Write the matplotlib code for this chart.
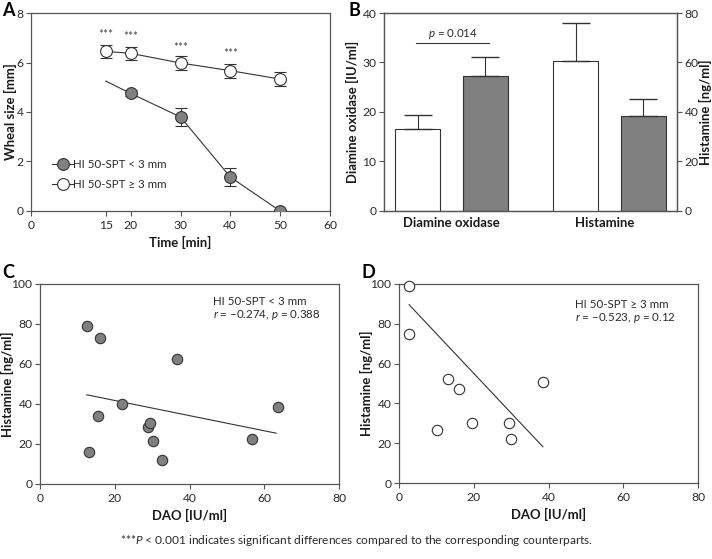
import matplotlib
matplotlib.use("Agg")
import matplotlib.pyplot as plt
from matplotlib.lines import Line2D

plt.rcParams['font.family'] = ['Lato', 'DejaVu Sans']
plt.rcParams['mathtext.fontset'] = 'custom'
plt.rcParams['mathtext.it'] = 'Lato:italic'
plt.rcParams['mathtext.rm'] = 'Lato'
plt.rcParams['axes.edgecolor'] = '#555555'
plt.rcParams['xtick.color'] = '#555555'
plt.rcParams['ytick.color'] = '#555555'
plt.rcParams['xtick.labelcolor'] = '#2a2a2a'
plt.rcParams['ytick.labelcolor'] = '#2a2a2a'

# ---- Panel A data ----
time_low = [15, 20, 30, 40, 50]
wheal_low = [5.25, 4.75, 3.8, 1.37, 0.0]
wheal_low_err = [0.0, 0.12, 0.35, 0.35, 0.0]
time_high = [15, 20, 30, 40, 50]
wheal_high = [6.45, 6.37, 5.98, 5.67, 5.33]
wheal_high_err = [0.25, 0.25, 0.28, 0.28, 0.28]
star_times = [15, 20, 30, 40]
star_levels = [7.15, 7.05, 6.6, 6.35]
a_xticks = [0, 15, 20, 30, 40, 50, 60]

# ---- Panel B data ----
b_groups = ['Diamine oxidase', 'Histamine']
dao_means = [16.5, 27.3]
dao_err = [2.8, 3.8]
hist_means = [60.8, 38.3]
hist_err = [15.0, 6.8]

# ---- Panel C data ----
c_dao = [12.5, 16.1, 36.7, 22.0, 15.4, 63.7, 29.0, 29.5, 30.2, 56.6, 13.1, 32.6]
c_hist = [78.9, 73.1, 62.4, 40.1, 34.1, 38.5, 28.4, 30.3, 21.7, 22.4, 15.9, 11.9]
c_fit_x = [12.5, 63.2]
c_fit_y = [44.6, 25.4]

# ---- Panel D data ----
d_dao = [2.6, 2.7, 13.0, 16.1, 10.3, 19.4, 29.3, 30.1, 38.4]
d_hist = [99.2, 74.9, 52.3, 47.0, 26.8, 30.4, 30.4, 21.9, 50.7]
d_fit_x = [2.7, 38.5]
d_fit_y = [89.6, 18.2]

W, H = 712, 559
fig = plt.figure(figsize=(W / 100, H / 100), dpi=100)
renderer = fig.canvas.get_renderer()


def fit_size(s, target_px, weight='normal'):
    t = fig.text(0, 0, s, fontsize=10, fontweight=weight)
    w = t.get_window_extent(renderer).width
    t.remove()
    return 10 * target_px / w


TICK = fit_size('100', 21)
LABEL = fit_size('DAO [IU/ml]', 75, 'bold')
TXT = fit_size('HI 50-SPT < 3 mm', 93)
FOOT = fit_size('***$P$ < 0.001 indicates significant differences compared to the corresponding counterparts.', 473)


def ax_px(l, t, r, b):
    return fig.add_axes([l / W, 1 - b / H, (r - l) / W, (b - t) / H])

GRAY = '#808080'
DARK = '#333333'
TCOL = '#2a2a2a'
LBL = dict(fontweight='bold', fontsize=LABEL, color='#1a1a1a')

# ---------- A ----------
axA = ax_px(31, 13, 330, 211)
axA.plot(time_low, wheal_low, color=DARK, lw=0.8, zorder=2)
axA.errorbar(time_low[1:], wheal_low[1:], yerr=wheal_low_err[1:], fmt='o', ms=8.5,
             mfc=GRAY, mec=DARK, mew=0.8, ecolor=DARK, elinewidth=0.8, capsize=4.5,
             zorder=3)
axA.errorbar(time_high, wheal_high, yerr=wheal_high_err, fmt='-o', ms=8.5,
             mfc='white', mec=DARK, mew=0.8, color=DARK, lw=0.8,
             ecolor=DARK, elinewidth=0.8, capsize=4.5, zorder=3)
for t, s in zip(star_times, star_levels):
    axA.text(t, s, '***', ha='center', va='center', fontsize=TXT, color='#444444')
axA.set_xlim(0, 60)
axA.set_ylim(0, 8)
axA.set_xticks(a_xticks)
axA.set_yticks([0, 2, 4, 6, 8])
axA.set_xlabel('Time [min]', **LBL)
axA.set_ylabel('Wheal size [mm]', **LBL)
axA.xaxis.set_label_coords(0.5, -0.128)
axA.yaxis.set_label_coords(-0.047, 0.5)
h1 = Line2D([], [], color=DARK, lw=0.8, marker='o', ms=8.5, mfc=GRAY, mec=DARK, mew=0.8)
h2 = Line2D([], [], color=DARK, lw=0.8, marker='o', ms=8.5, mfc='white', mec=DARK, mew=0.8)
axA.legend([h1, h2], ['HI 50-SPT < 3 mm', 'HI 50-SPT ≥ 3 mm'], loc='lower left',
           bbox_to_anchor=(0.056, 0.085), frameon=False, handlelength=1.8,
           handletextpad=0.0, labelspacing=0.75, borderaxespad=0, fontsize=TXT,
           labelcolor=TCOL)

# ---------- B ----------
axB = ax_px(384, 13, 677, 211)
xpos = [0.75, 2.25]
axB.bar(xpos[0], dao_means[0], width=1.0, color='white', edgecolor=DARK, lw=0.8)
axB.bar(xpos[1], dao_means[1], width=1.0, color=GRAY, edgecolor=DARK, lw=0.8)
for x, m, e in zip(xpos, dao_means, dao_err):
    axB.errorbar(x, m, yerr=[[0], [e]], fmt='none', ecolor=DARK, elinewidth=0.8, capsize=10)
axB.set_xlim(0, 6.5)
axB.set_ylim(0, 40)
axB.set_yticks([0, 10, 20, 30, 40])
axB.set_xticks([1.5, 4.9])
axB.set_xticklabels(b_groups)
axB.set_ylabel('Diamine oxidase [IU/ml]', **LBL)
axB.yaxis.set_label_coords(-0.087, 0.5)
axB.plot([0.72, 2.32], [34.0, 34.0], color=DARK, lw=0.8)
axB.text(1.52, 34.4, '$p$ = 0.014', ha='center', va='bottom', fontsize=TXT, color=TCOL)
axB2 = axB.twinx()
hpos = [4.25, 5.75]
axB2.bar(hpos[0], hist_means[0], width=1.0, color='white', edgecolor=DARK, lw=0.8)
axB2.bar(hpos[1], hist_means[1], width=1.0, color=GRAY, edgecolor=DARK, lw=0.8)
for x, m, e in zip(hpos, hist_means, hist_err):
    axB2.errorbar(x, m, yerr=[[0], [e]], fmt='none', ecolor=DARK, elinewidth=0.8, capsize=10)
axB2.set_ylim(0, 80)
axB2.set_yticks([0, 20, 40, 60, 80])
axB2.set_ylabel('Histamine [ng/ml]', **LBL)
axB2.yaxis.set_label_coords(1.074, 0.5)
axB2.set_xlim(0, 6.5)

# ---------- C ----------
axC = ax_px(40, 284, 339, 484)
axC.scatter(c_dao, c_hist, s=56, c=GRAY, edgecolors=DARK, linewidths=0.8, zorder=3)
axC.plot(c_fit_x, c_fit_y, color=DARK, lw=0.8, zorder=2)
axC.set_xlim(0, 80)
axC.set_ylim(0, 100)
axC.set_xticks([0, 20, 40, 60, 80])
axC.set_yticks([0, 20, 40, 60, 80, 100])
axC.set_xlabel('DAO [IU/ml]', **LBL)
axC.set_ylabel('Histamine [ng/ml]', **LBL)
axC.xaxis.set_label_coords(0.5, -0.125)
axC.yaxis.set_label_coords(-0.087, 0.5)
axC.text(46.3, 91.3, 'HI 50-SPT < 3 mm', ha='left', va='center', fontsize=TXT, color=TCOL)
axC.text(46.3, 84.6, '$r$ = –0.274, $p$ = 0.388', ha='left', va='center', fontsize=TXT, color=TCOL)

# ---------- D ----------
axD = ax_px(399, 284, 698, 483)
axD.scatter(d_dao, d_hist, s=56, c='white', edgecolors=DARK, linewidths=0.8, zorder=3, clip_on=False)
axD.plot(d_fit_x, d_fit_y, color=DARK, lw=0.8, zorder=2)
axD.set_xlim(0, 80)
axD.set_ylim(0, 100)
axD.set_xticks([0, 20, 40, 60, 80])
axD.set_yticks([0, 20, 40, 60, 80, 100])
axD.set_xlabel('DAO [IU/ml]', **LBL)
axD.set_ylabel('Histamine [ng/ml]', **LBL)
axD.xaxis.set_label_coords(0.5, -0.126)
axD.yaxis.set_label_coords(-0.087, 0.5)
axD.text(47, 89.8, 'HI 50-SPT ≥ 3 mm', ha='left', va='center', fontsize=TXT, color=TCOL)
axD.text(47, 83.0, '$r$ = –0.523, $p$ = 0.12', ha='left', va='center', fontsize=TXT, color=TCOL)

for ax in [axA, axB, axB2, axC, axD]:
    ax.tick_params(labelsize=TICK, length=3.5, width=0.8, pad=2)
    for sp in ax.spines.values():
        sp.set_linewidth(0.9)
for ax in [axA, axC, axD]:
    ax.tick_params(axis='x', pad=3)
axB.tick_params(axis='x', length=0, pad=4, labelsize=LABEL, labelcolor='#1a1a1a')
for lab in axB.get_xticklabels():
    lab.set_fontweight('bold')

# panel letters
for lbl, x, y in [('A', 2, 11), ('B', 348, 11), ('C', 2, 272), ('D', 361, 272)]:
    fig.text(x / W, 1 - y / H, lbl, fontsize=13, fontweight='bold', ha='left', va='center')

fig.text(356 / W, 1 - 541 / H,
         '***$P$ < 0.001 indicates significant differences compared to the corresponding counterparts.',
         ha='center', va='center', fontsize=FOOT, color=TCOL)

fig.savefig('out.png', dpi=100)
